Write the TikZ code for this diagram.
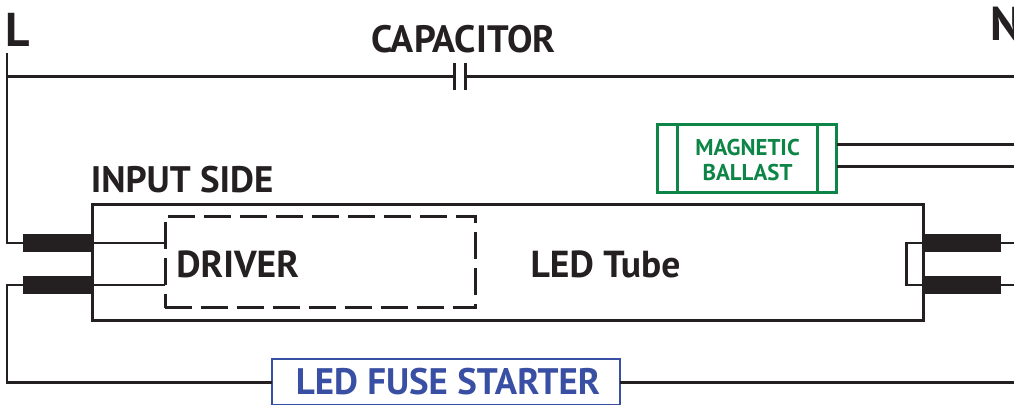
\documentclass[tikz,border=0pt]{standalone}
\usepackage{fontspec}
\setmainfont{PT Sans}
\usepackage{xcolor}
\definecolor{dblack}{rgb}{0.14,0.12,0.13}
\definecolor{dgreen}{rgb}{0.05,0.52,0.28}
\definecolor{dblue}{rgb}{0.22,0.31,0.64}
\tikzset{
  wire/.style={color=dblack, line width=0.06cm},
  pin/.style={fill=dblack, minimum width=1.38cm, minimum height=0.36cm, inner sep=0, outer sep=0},
  lab/.style={color=dblack, font=\bfseries\fontsize{21.4}{21.4}\selectfont, inner sep=0},
  big/.style={color=dblack, font=\bfseries\fontsize{27}{27}\selectfont, inner sep=0},
  small/.style={color=dgreen, font=\bfseries\fontsize{13}{13}\selectfont, inner sep=0},
  tube/.style={draw=dblack, line width=0.06cm, minimum width=16.64cm, minimum height=2.34cm, inner sep=0, outer sep=0}
}
\begin{document}
\begin{tikzpicture}[x=0.02cm, y=-0.02cm]
\useasboundingbox (0,0) rectangle (1014,405);
% labels
\node[big] (lineL) at (17.5,30) {L};
\node[big, anchor=west] (lineN) at (990,24) {N};
\node[lab, font=\bfseries\fontsize{21.7}{21.7}\selectfont] (capacitor) at (463.5,39) {CAPACITOR};
\node[lab, font=\bfseries\fontsize{21}{21}\selectfont, anchor=west] (inputside) at (90.5,180) {INPUT SIDE};
% tube and driver
\node[tube] (ledtube) at (508,262.5) {};
\node[lab] (tubetext) at (605.5,264.5) {LED Tube};
\node[draw=dblack, line width=0.06cm, dash pattern=on 0.54cm off 0.18cm, minimum width=6.22cm, minimum height=1.84cm, inner sep=0, outer sep=0] (driver) at (320.5,262) {};
\node[lab, anchor=west] (drivertext) at (176,264.5) {DRIVER};
% pins
\node[pin, anchor=east] (pinA) at (92,243) {};
\node[pin, anchor=east] (pinB) at (92,285) {};
\node[pin, anchor=west, minimum width=1.54cm] (pinC) at (924,243) {};
\node[pin, anchor=west, minimum width=1.54cm] (pinD) at (924,285) {};
\coordinate (topL) at (7,53);
\coordinate (capL) at (454,76.5);
\coordinate (capR) at (465,76.5);
\coordinate (topR) at (1014,76.5);
\coordinate (midL) at (7,382);
\coordinate (botR) at (1014,382);
\coordinate (loopA) at (906,243);
\coordinate (loopB) at (906,285);
\coordinate (outC) at (1014,243);
\coordinate (outD) at (1014,285);
\coordinate (outE) at (1014,145);
\coordinate (outF) at (1014,167);
% ballast
\node[draw=dgreen, line width=0.06cm, minimum width=3.6cm, minimum height=1.38cm, inner sep=0, outer sep=0] (ballast) at (747,158.5) {};
\draw[dgreen, line width=0.06cm] (677,124) -- (677,193);
\draw[dgreen, line width=0.06cm] (817,124) -- (817,193);
\node[small] (magnetic) at (747.5,147.5) {MAGNETIC};
\node[small] (ballasttext) at (747.5,172.5) {BALLAST};
% starter
\node[draw=dblue, line width=0.05cm, minimum width=6.96cm, minimum height=0.92cm, inner sep=0, outer sep=0, text=dblue, font=\bfseries\fontsize{21}{21}\selectfont] (starter) at (446,382) {\hspace*{0.08cm}LED FUSE STARTER};
% wires
\draw[wire] (topL) |- (pinA.west);
\draw[wire] (7,76.5) -- (capL);
\draw[wire] (454,63) -- (454,90);
\draw[wire] (465,63) -- (465,90);
\draw[wire] (capR) -- (topR);
\draw[wire] (pinB.west) -| (midL) -- (starter.west);
\draw[wire] (starter.east) -- (botR);
\draw[wire] (pinA.east) -- (driver.west |- pinA.east);
\draw[wire] (pinB.east) -- (driver.west |- pinB.east);
\draw[wire] (pinC.west) -- (loopA) -- (loopB) -- (pinD.west);
\draw[wire] (pinC.east) -- (outC);
\draw[wire] (pinD.east) -- (outD);
\draw[wire] (ballast.east |- outE) -- (outE);
\draw[wire] (ballast.east |- outF) -- (outF);
\end{tikzpicture}
\end{document}
